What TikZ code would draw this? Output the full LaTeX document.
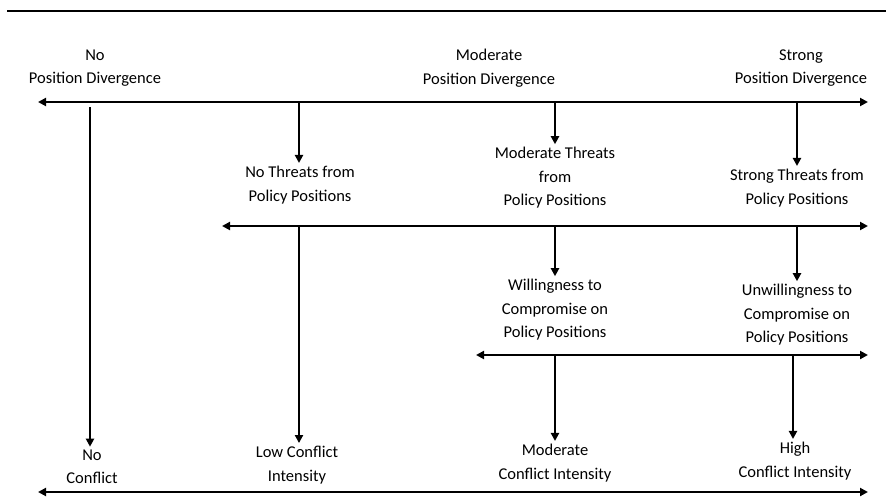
\documentclass[tikz,border=0pt]{standalone}
\usepackage{fontspec}
\setmainfont{Carlito}
\usepackage{tikz}
\usetikzlibrary{arrows.meta}
\tikzstyle{label} = [align=center, inner sep=3pt, font=\fontsize{16.5}{23.5}\selectfont]
\tikzstyle{line} = [draw, line width=2pt, -{Triangle[length=8pt,width=8pt]}]
\tikzstyle{axis} = [draw, line width=2pt, {Triangle[length=8pt,width=8pt]}-{Triangle[length=8pt,width=8pt]}]

\begin{document}
\begin{tikzpicture}[x=1pt, y=-1pt]
    \useasboundingbox (0,0) rectangle (886,498);
    % Top rule
    \draw [line width=2.6pt] (7,11) -- (886,11);
    % Place nodes
    \node [label] (nodiv)   at (95,68)  {No\\Position Divergence};
    \node [label] (moddiv)  at (489,68) {Moderate\\Position Divergence};
    \node [label] (strdiv)  at (801,68) {Strong\\Position Divergence};
    \node [label] (nothr)   at (300,185) {No Threats from\\Policy Positions};
    \node [label] (modthr)  at (555,178) {Moderate Threats\\from\\Policy Positions};
    \node [label] (strthr)  at (797,188) {Strong Threats from\\Policy Positions};
    \node [label] (will)    at (555,310) {Willingness to\\Compromise on\\Policy Positions};
    \node [label] (unwill)  at (797,315) {Unwillingness to\\Compromise on\\Policy Positions};
    \node [label] (nocon)   at (92,467)  {No\\Conflict};
    \node [label] (lowcon)  at (297,465) {Low Conflict\\Intensity};
    \node [label] (modcon)  at (555,463) {Moderate\\Conflict Intensity};
    \node [label] (highcon) at (795,461) {High\\Conflict Intensity};
    % Scale ends
    \coordinate (divw) at (38,102);  \coordinate (dive) at (868,102);
    \coordinate (thrw) at (222,226); \coordinate (thre) at (868,226);
    \coordinate (comw) at (476,355); \coordinate (come) at (868,355);
    \coordinate (conw) at (38,492);  \coordinate (cone) at (868,492);
    % Branch points
    \coordinate (bnodiv)  at (90,107);
    \coordinate (bmoddiv) at (299,102);
    \coordinate (bstrdiv) at (555,102);
    \coordinate (bhidiv)  at (797,102);
    \coordinate (bnothr)  at (299,226);
    \coordinate (bmodthr) at (555,226);
    \coordinate (bstrthr) at (797,226);
    \coordinate (bwill)   at (555,355);
    \coordinate (bunwill) at (793,355);
    % Draw scales
    \path [axis] (divw) -- (dive);
    \path [axis] (thrw) -- (thre);
    \path [axis] (comw) -- (come);
    \path [axis] (conw) -- (cone);
    % Draw edges
    \path [line] (bnodiv)  -- (bnodiv |- nocon.north);
    \path [line] (bmoddiv) -- (bmoddiv |- nothr.north);
    \path [line] (bstrdiv) -- (bstrdiv |- modthr.north);
    \path [line] (bhidiv)  -- (bhidiv |- strthr.north);
    \path [line] (bnothr)  -- (bnothr |- lowcon.north);
    \path [line] (bmodthr) -- (bmodthr |- will.north);
    \path [line] (bstrthr) -- (bstrthr |- unwill.north);
    \path [line] (bwill)   -- (bwill |- modcon.north);
    \path [line] (bunwill) -- (bunwill |- highcon.north);
\end{tikzpicture}
\end{document}
